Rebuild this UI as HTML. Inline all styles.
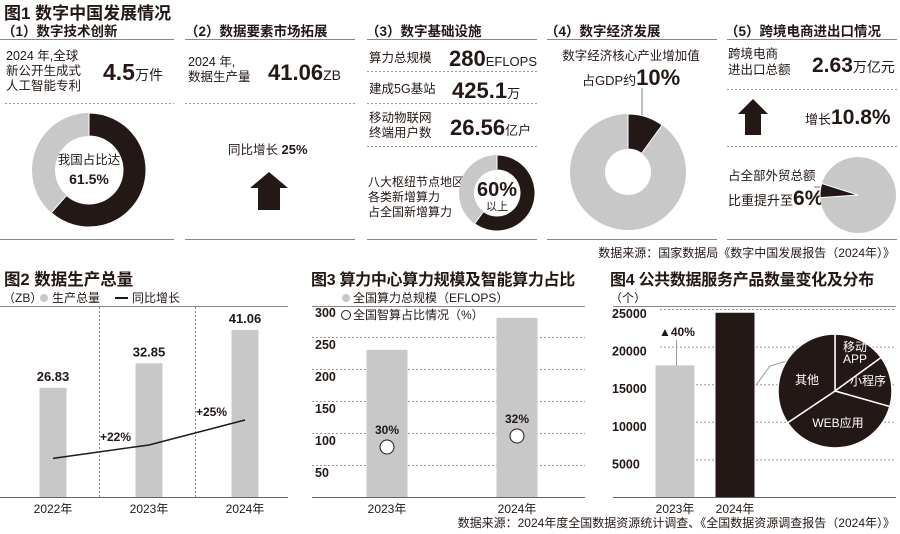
<!DOCTYPE html>
<html><head><meta charset="utf-8"><style>
html,body{margin:0;padding:0;background:#fff;width:900px;height:534px;overflow:hidden}
svg{display:block;font-family:"Liberation Sans","Noto Sans CJK SC",sans-serif}
.t{fill:#231815}
.big{font-weight:bold;fill:#231815}
.h{font-weight:bold;fill:#231815}
</style></head><body>
<svg id="s" width="900" height="534" viewBox="0 0 900 534" xmlns="http://www.w3.org/2000/svg">
<g id="top">
<text x="4" y="19" font-size="17" class="h">图1 数字中国发展情况</text>
<g font-size="13.5" class="h">
<text x="2" y="36">（1）数字技术创新</text>
<text x="185" y="36">（2）数据要素市场拓展</text>
<text x="366" y="36">（3）数字基础设施</text>
<text x="545" y="36">（4）数字经济发展</text>
<text x="725" y="36">（5）跨境电商进出口情况</text>
</g>
<g stroke="#888" stroke-width="1">
<line x1="0" y1="39.5" x2="174" y2="39.5"/><line x1="185" y1="39.5" x2="355" y2="39.5"/><line x1="367" y1="39.5" x2="537" y2="39.5"/><line x1="547" y1="39.5" x2="717" y2="39.5"/><line x1="727" y1="39.5" x2="897" y2="39.5"/>
<line x1="0" y1="239.5" x2="174" y2="239.5"/><line x1="185" y1="239.5" x2="355" y2="239.5"/><line x1="367" y1="239.5" x2="537" y2="239.5"/><line x1="547" y1="239.5" x2="717" y2="239.5"/><line x1="727" y1="239.5" x2="897" y2="239.5"/>
</g>
<g stroke="#999" stroke-width="1" stroke-dasharray="2,2">
<line x1="5" y1="103.5" x2="174" y2="103.5"/><line x1="185" y1="103.5" x2="355" y2="103.5"/>
<line x1="367" y1="71.5" x2="537" y2="71.5"/><line x1="367" y1="103.5" x2="537" y2="103.5"/><line x1="367" y1="146.5" x2="537" y2="146.5"/>
<line x1="727" y1="89.5" x2="897" y2="89.5"/><line x1="727" y1="146.5" x2="897" y2="146.5"/>
</g>
<g font-size="12.5" class="t">
<text x="6" y="60">2024 年,全球</text><text x="6" y="75">新公开生成式</text><text x="6" y="90">人工智能专利</text>
<text x="188" y="66">2024 年,</text><text x="188" y="81">数据生产量</text>
<text x="369" y="62">算力总规模</text><text x="369" y="93">建成5G基站</text>
<text x="369" y="122">移动物联网</text><text x="369" y="137">终端用户数</text>
<g font-size="12"><text x="368" y="186">八大枢纽节点地区</text><text x="368" y="201">各类新增算力</text><text x="368" y="216">占全国新增算力</text></g>
<text x="631" y="60" text-anchor="middle">数字经济核心产业增加值</text>
<text x="728" y="58">跨境电商</text><text x="728" y="74">进出口总额</text>
<text x="728" y="180">占全部外贸总额</text>
</g>
<text x="103" y="80" class="big" font-size="23">4.5<tspan font-size="14" font-weight="normal">万件</tspan></text>
<text x="268" y="80" class="big" font-size="22">41.06<tspan font-size="14" font-weight="normal">ZB</tspan></text>
<text x="449" y="66" class="big" font-size="22">280<tspan font-size="13" font-weight="normal">EFLOPS</tspan></text>
<text x="452" y="98" class="big" font-size="22">425.1<tspan font-size="13" font-weight="normal">万</tspan></text>
<text x="450" y="135" class="big" font-size="22">26.56<tspan font-size="13" font-weight="normal">亿户</tspan></text>
<text x="582" y="85" font-size="13" class="t">占GDP约<tspan font-size="22" font-weight="bold">10%</tspan></text>
<text x="812" y="72" class="big" font-size="21">2.63<tspan font-size="14" font-weight="normal">万亿元</tspan></text>
<text x="805" y="124" font-size="13" class="t">增长<tspan font-size="21" font-weight="bold">10.8%</tspan></text>
<text x="728" y="205" font-size="13" class="t">比重提升至<tspan font-size="21" font-weight="bold">6%</tspan></text>
<text x="228" y="154" font-size="12.5" class="t">同比增长 <tspan font-weight="bold" font-size="13">25%</tspan></text>
<path d="M269 172 L288 188 L280 188 L280 210 L258 210 L258 188 L250 188 Z" fill="#231815"/>
<path d="M753 99 L768 114 L761 114 L761 135 L745 135 L745 114 L738 114 Z" fill="#231815"/>
<line x1="642" y1="88" x2="642" y2="115" stroke="#777" stroke-width="1"/>
<line x1="814" y1="187" x2="828" y2="187" stroke="#777" stroke-width="1"/>
<g id="pies"></g>
<g text-anchor="middle" class="t">
<text x="89" y="164" font-size="12.5">我国占比达</text>
<text x="89" y="184" font-size="14" font-weight="bold">61.5%</text>
<text x="497" y="196" font-size="20" font-weight="bold">60%</text>
<text x="497" y="210" font-size="11">以上</text>
</g>
<text x="895" y="257" font-size="12" class="t" text-anchor="end">数据来源：国家数据局《数字中国发展报告（2024年）》</text>
</g>

<g>
<text x="4" y="285" font-size="16.5" class="h">图2  数据生产总量</text>
<text x="3" y="302" font-size="12" class="t">（ZB）</text>
<circle cx="44" cy="298" r="4" fill="#c8c8c8"/>
<text x="52" y="302" font-size="12" class="t">生产总量</text>
<line x1="115" y1="298" x2="128" y2="298" stroke="#231815" stroke-width="2"/>
<text x="132" y="302" font-size="12" class="t">同比增长</text>
<line x1="0" y1="306.5" x2="288" y2="306.5" stroke="#888"/>
<g id="c2"></g>
</g>
<g>
<text x="311" y="285" font-size="16" class="h" letter-spacing="-0.3">图3 算力中心算力规模及智能算力占比</text>
<circle cx="346" cy="298" r="4" fill="#c8c8c8"/>
<text x="353" y="302" font-size="12" class="t">全国算力总规模（EFLOPS）</text>
<circle cx="346" cy="315" r="4.5" fill="#fff" stroke="#231815"/>
<text x="353" y="319" font-size="12" class="t">全国智算占比情况（%）</text>
<line x1="312" y1="306.5" x2="585" y2="306.5" stroke="#888"/>
<g id="c3"></g>
</g>
<g>
<text x="610" y="285" font-size="16" class="h" letter-spacing="-0.3">图4 公共数据服务产品数量变化及分布</text>
<text x="610" y="302" font-size="12" class="t">（个）</text>
<line x1="613" y1="306.5" x2="896" y2="306.5" stroke="#888"/>
<g id="c4"></g>
</g>
<text x="895" y="527" font-size="12" class="t" text-anchor="end">数据来源：2024年度全国数据资源统计调查、《全国数据资源调查报告（2024年）》</text>
</svg>
<script>
// Figure 1 donuts
const donutShares = [61.5, 60, 10, 6];
// Figure 2
const years2 = ["2022年", "2023年", "2024年"];
const volume2 = [26.83, 32.85, 41.06];
const growth2 = [20.4, 22, 25];
const growthLabels2 = ["", "+22%", "+25%"];
// Figure 3
const years3 = ["2023年", "2024年"];
const compute3 = [230, 280];
const aiShare3 = [30, 32];
const ticks3 = [50, 100, 150, 200, 250, 300];
// Figure 4
const years4 = ["2023年", "2024年"];
const products4 = [17500, 24500];
const ticks4 = [5000, 10000, 15000, 20000, 25000];
const pieLabels4 = ["移动APP", "小程序", "WEB应用", "其他"];
const pieShares4 = [15, 14.4, 36.2, 34.4];

const NS = "http://www.w3.org/2000/svg";
function mk(tag, attrs, parent) {
  const e = document.createElementNS(NS, tag);
  for (const k in attrs) e.setAttribute(k, attrs[k]);
  parent.appendChild(e);
  return e;
}
function pt(cx, cy, r, deg) { const a = (deg - 90) * Math.PI / 180; return [cx + r * Math.cos(a), cy + r * Math.sin(a)]; }
function ring(cx, cy, ro, ri, a0, a1) {
  if (a1 - a0 >= 359.99) a1 = a0 + 359.99;
  const L = (a1 - a0) > 180 ? 1 : 0;
  const p1 = pt(cx, cy, ro, a0), p2 = pt(cx, cy, ro, a1);
  if (ri <= 0) return `M${cx} ${cy} L${p1[0]} ${p1[1]} A${ro} ${ro} 0 ${L} 1 ${p2[0]} ${p2[1]} Z`;
  const p3 = pt(cx, cy, ri, a1), p4 = pt(cx, cy, ri, a0);
  return `M${p1[0]} ${p1[1]} A${ro} ${ro} 0 ${L} 1 ${p2[0]} ${p2[1]} L${p3[0]} ${p3[1]} A${ri} ${ri} 0 ${L} 0 ${p4[0]} ${p4[1]} Z`;
}
const pies = document.getElementById("pies");
const donutGeo = [[89, 170, 57, 34, 0], [497, 193, 38, 23, 0], [628, 172, 58, 23, 0], [858, 195, 38, 0, 266]];
donutShares.forEach((v, i) => {
  const [cx, cy, ro, ri, st] = donutGeo[i];
  const sweep = v * 3.6;
  const bg = mk("path", { d: ring(cx, cy, ro, ri, st + sweep, st + 360), fill: "#c8c8c8" }, pies);
  
  
  const fg = mk("path", { d: ring(cx, cy, ro, ri, st, st + sweep), fill: "#231815", stroke: "#fff", "stroke-width": 1 }, pies);
  
  
});

// Figure 2
const c2 = document.getElementById("c2");
const base2 = 497, x2 = i => 53 + i * 96, y2 = v => base2 - v * 4.07, gy2 = g => 445 - (g - 22) * 8.33;
[99, 195].forEach(x => mk("line", { x1: x + .5, y1: 307, x2: x + .5, y2: base2, stroke: "#888", "stroke-dasharray": "2,2" }, c2));
volume2.forEach((v, i) => {
  const b = mk("rect", { x: x2(i) - 13.5, y: y2(v), width: 27, height: base2 - y2(v), fill: "#c8c8c8" }, c2);
  
  
  const t = mk("text", { x: x2(i), y: y2(v) - 7, "text-anchor": "middle", "font-size": 13, "font-weight": "bold", fill: "#231815" }, c2);
  t.textContent = v.toFixed(2);
  
  
  const yl = mk("text", { x: x2(i), y: 513, "text-anchor": "middle", "font-size": 12, fill: "#231815" }, c2);
  yl.textContent = years2[i];
  
  
});
mk("line", { x1: 0, y1: base2 + .5, x2: 288, y2: base2 + .5, stroke: "#666" }, c2);
let d2 = "";
growth2.forEach((g, i) => { d2 += (i ? " L" : "M") + x2(i) + " " + gy2(g); });
const ln = mk("path", { d: d2, fill: "none", stroke: "#231815", "stroke-width": 1.5 }, c2);


growthLabels2.forEach((s, i) => {
  if (!s) return;
  const t = mk("text", { x: x2(i) - 49, y: gy2(growth2[i]) - 4, "font-size": 12, "font-weight": "bold", fill: "#231815" }, c2);
  t.textContent = s;
  
  
});

// Figure 3
const c3 = document.getElementById("c3");
const base3 = 497, y3 = v => base3 - v * 0.64, x3 = i => 387 + i * 130, sy3 = p => 447 - (p - 30) * 5.5;
ticks3.forEach(t => {
  if (t < 300) mk("line", { x1: 312, y1: y3(t) + .5, x2: 585, y2: y3(t) + .5, stroke: "#999", "stroke-dasharray": "2,2" }, c3);
  const l = mk("text", { x: 315, y: y3(t) + 12, "font-size": 12.5, "font-weight": "bold", fill: "#231815" }, c3);
  l.textContent = t;
  
  
});
compute3.forEach((v, i) => {
  const b = mk("rect", { x: x3(i) - 20.5, y: y3(v), width: 41, height: base3 - y3(v), fill: "#c8c8c8" }, c3);
  
  
  const c = mk("circle", { cx: x3(i), cy: sy3(aiShare3[i]), r: 7, fill: "#fff", stroke: "#231815" }, c3);
  
  
  const t = mk("text", { x: x3(i), y: sy3(aiShare3[i]) - 13, "text-anchor": "middle", "font-size": 12, "font-weight": "bold", fill: "#231815" }, c3);
  t.textContent = aiShare3[i] + "%";
  
  
  const yl = mk("text", { x: x3(i), y: 513, "text-anchor": "middle", "font-size": 12, fill: "#231815" }, c3);
  yl.textContent = years3[i];
  
  
});
mk("line", { x1: 312, y1: base3 + .5, x2: 585, y2: base3 + .5, stroke: "#666" }, c3);

// Figure 4
const c4 = document.getElementById("c4");
const base4 = 497, y4 = v => base4 - v * 0.00752, x4 = i => 675 + i * 60;
ticks4.forEach(t => {
  mk("line", { x1: 660, y1: y4(t) + .5, x2: 896, y2: y4(t) + .5, stroke: "#999", "stroke-dasharray": "2,2" }, c4);
  const l = mk("text", { x: 612, y: y4(t) + 9, "font-size": 12.5, "font-weight": "bold", fill: "#231815" }, c4);
  l.textContent = t;
  
  
});
products4.forEach((v, i) => {
  const b = mk("rect", { x: x4(i) - 19.5, y: y4(v), width: 39, height: base4 - y4(v), fill: i ? "#231815" : "#c8c8c8" }, c4);
  
  
  const yl = mk("text", { x: x4(i), y: 513, "text-anchor": "middle", "font-size": 12, fill: "#231815" }, c4);
  yl.textContent = years4[i];
  
  
});
mk("line", { x1: 676.5, y1: 340, x2: 676.5, y2: y4(products4[0]), stroke: "#999" }, c4);
const gl = mk("text", { x: 659, y: 336, "font-size": 12, "font-weight": "bold", fill: "#231815" }, c4);
gl.textContent = "▲40%";


mk("line", { x1: 613, y1: base4 + .5, x2: 896, y2: base4 + .5, stroke: "#666" }, c4);
mk("polyline", { points: "756,385 770,366 790,360", fill: "none", stroke: "#999" }, c4);
const pcx = 835, pcy = 391, pr = 57;
const labelPos = [[855, 357], [868, 385], [838, 427], [807, 384]];
let acc = 0;
pieShares4.forEach((s, i) => {
  const a0 = acc * 3.6, a1 = (acc + s) * 3.6; acc += s;
  const p = mk("path", { d: ring(pcx, pcy, pr, 0, a0, a1), fill: "#231815", stroke: "#fff", "stroke-width": 1.5 }, c4);
  
  
});
pieLabels4.forEach((s, i) => {
  const [lx, ly] = labelPos[i];
  const t = mk("text", { x: lx, y: ly, "text-anchor": "middle", "font-size": 12, fill: "#fff" }, c4);
  
  
  if (s === "移动APP") {
    const a = mk("tspan", { x: lx, dy: -6 }, t); a.textContent = "移动";
    const b = mk("tspan", { x: lx, dy: 12 }, t); b.textContent = "APP";
  } else t.textContent = s;
});
</script>
</body></html>
